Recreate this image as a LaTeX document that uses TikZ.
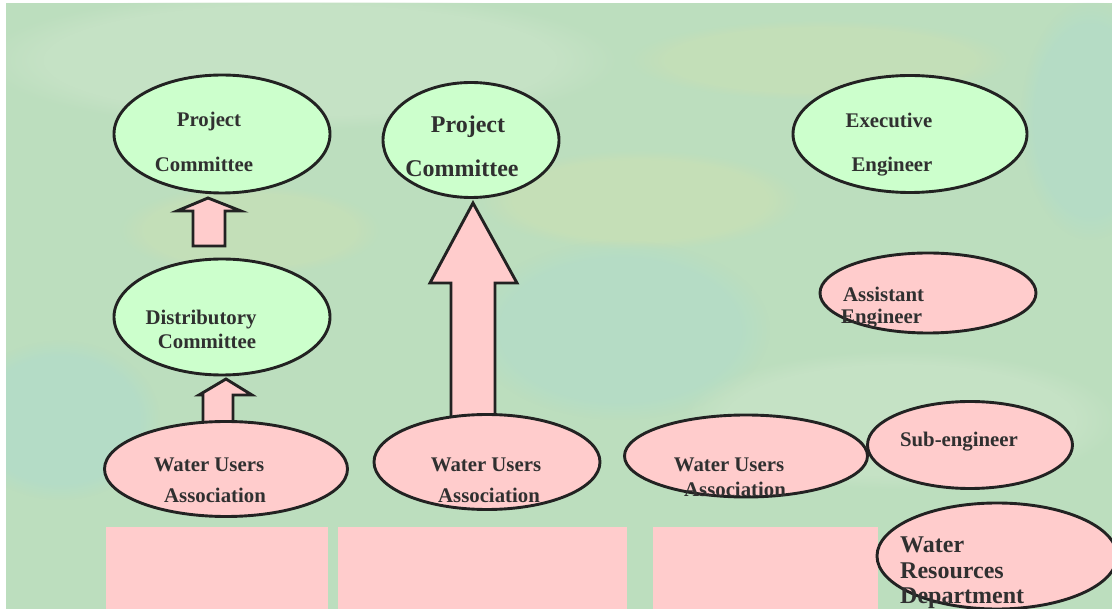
\documentclass[tikz,border=0pt]{standalone}
\usepackage{fontspec}
\setmainfont{Liberation Serif}
\usetikzlibrary{shapes.geometric,fadings}
\definecolor{bg}{RGB}{188,222,190}
\definecolor{bgyel}{RGB}{214,226,172}
\definecolor{bgblue}{RGB}{172,219,208}
\definecolor{bglight}{RGB}{206,230,204}
\definecolor{gfill}{RGB}{204,255,204}
\definecolor{pfill}{RGB}{255,204,204}
\definecolor{ink}{RGB}{34,34,34}
\definecolor{txt}{RGB}{48,48,48}
\begin{document}
\begin{tikzpicture}[x=1pt,y=-1pt,
  ell/.style={ellipse, draw=ink, line width=2.9pt, inner sep=0pt},
  gell/.style={ell, fill=gfill},
  pell/.style={ell, fill=pfill},
  lbl/.style={text=txt, font=\bfseries\fontsize{20.8}{24}\selectfont, inner sep=0pt, anchor=base},
  lblw/.style={lbl, anchor=base west},
  biglbl/.style={lbl, font=\bfseries\fontsize{24}{28}\selectfont},
  biglblw/.style={biglbl, anchor=base west},
  blockarrow/.style={draw=ink, line width=2.9pt, fill=pfill, line join=miter},
  pinkrect/.style={fill=pfill},
  blob/.style={path fading=circle with fuzzy edge 20 percent}
]
\useasboundingbox (0,0) rectangle (1112,609);
\clip (0,0) rectangle (1112,609);
% background
\fill[white] (0,0) rectangle (1112,609);
\fill[bg] (6,3) rectangle (1112,609);
\begin{scope}
\clip (6,3) rectangle (1112,609);
\fill[bglight, blob, opacity=.5] (300,60) ellipse [x radius=320, y radius=70];
\fill[bgyel, blob, opacity=.35] (640,200) ellipse [x radius=160, y radius=50];
\fill[bgyel, blob, opacity=.3] (250,230) ellipse [x radius=130, y radius=45];
\fill[bgblue, blob, opacity=.4] (620,330) ellipse [x radius=150, y radius=90];
\fill[bgblue, blob, opacity=.45] (60,420) ellipse [x radius=100, y radius=80];
\fill[bgblue, blob, opacity=.4] (1090,120) ellipse [x radius=70, y radius=120];
\fill[bglight, blob, opacity=.5] (900,420) ellipse [x radius=220, y radius=70];
\fill[bgyel, blob, opacity=.3] (820,60) ellipse [x radius=190, y radius=40];
\end{scope}
% pink rectangles
\fill[pinkrect] (106,527) rectangle (328,612);
\fill[pinkrect] (338,527) rectangle (627,612);
\fill[pinkrect] (653,527) rectangle (878,612);
% block arrows
\draw[blockarrow] (193,246) -- (193,211) -- (177,211) -- (208,198) -- (241,211) -- (225,211) -- (225,246) -- cycle;
\draw[blockarrow] (203,429) -- (203,395) -- (199,395) -- (226,379) -- (252,395) -- (233,395) -- (233,429) -- cycle;
\draw[blockarrow] (451,418) -- (451,283) -- (430,283) -- (473,203) -- (517,283) -- (495,283) -- (495,418) -- cycle;
% ellipses
\node[gell, minimum width=216pt, minimum height=118pt] (pc1) at (222,134) {};
\node[gell, minimum width=176pt, minimum height=115pt] (pc2) at (471,140) {};
\node[gell, minimum width=234pt, minimum height=117pt] (ee) at (910,134) {};
\node[gell, minimum width=216pt, minimum height=116pt] (dc) at (222,317) {};
\node[pell, minimum width=216pt, minimum height=80pt] (ae) at (928,293) {};
\node[pell, minimum width=243pt, minimum height=95pt] (wua1) at (226,469) {};
\node[pell, minimum width=226pt, minimum height=95pt] (wua2) at (487,462) {};
\node[pell, minimum width=243pt, minimum height=82pt] (wua3) at (746,456) {};
\node[pell, minimum width=205pt, minimum height=87pt] (se) at (970,445) {};
\node[pell, minimum width=240pt, minimum height=106pt] (wrd) at (997,556) {};
% labels
\node[lbl] (pc1a) at (209,127) {Project};
\node[lbl] (pc1b) at (204,172) {Committee};
\node[biglbl] (pc2a) at (468,133) {Project};
\node[biglbl] (pc2b) at (462,177) {Committee};
\node[lbl] (eea) at (889,128) {Executive};
\node[lbl] (eeb) at (892,172) {Engineer};
\node[lbl] (dca) at (201,325) {Distributory};
\node[lbl] (dcb) at (207,349) {Committee};
\node[lblw] (aea) at (843,302) {Assistant};
\node[lblw] (aeb) at (841,324) {Engineer};
\node[lbl] (wua1a) at (209,472) {Water Users};
\node[lbl] (wua1b) at (215,503) {Association};
\node[lbl] (wua2a) at (486,472) {Water Users};
\node[lbl] (wua2b) at (489,503) {Association};
\node[lbl] (wua3a) at (729,472) {Water Users};
\node[lbl] (wua3b) at (735,497) {Association};
\node[lbl] (sea) at (959,447) {Sub-engineer};
\node[biglblw] (wrda) at (900,553) {Water};
\node[biglblw] (wrdb) at (900,579) {Resources};
\node[biglblw] (wrdc) at (900,603) {Department};
\end{tikzpicture}
\end{document}
